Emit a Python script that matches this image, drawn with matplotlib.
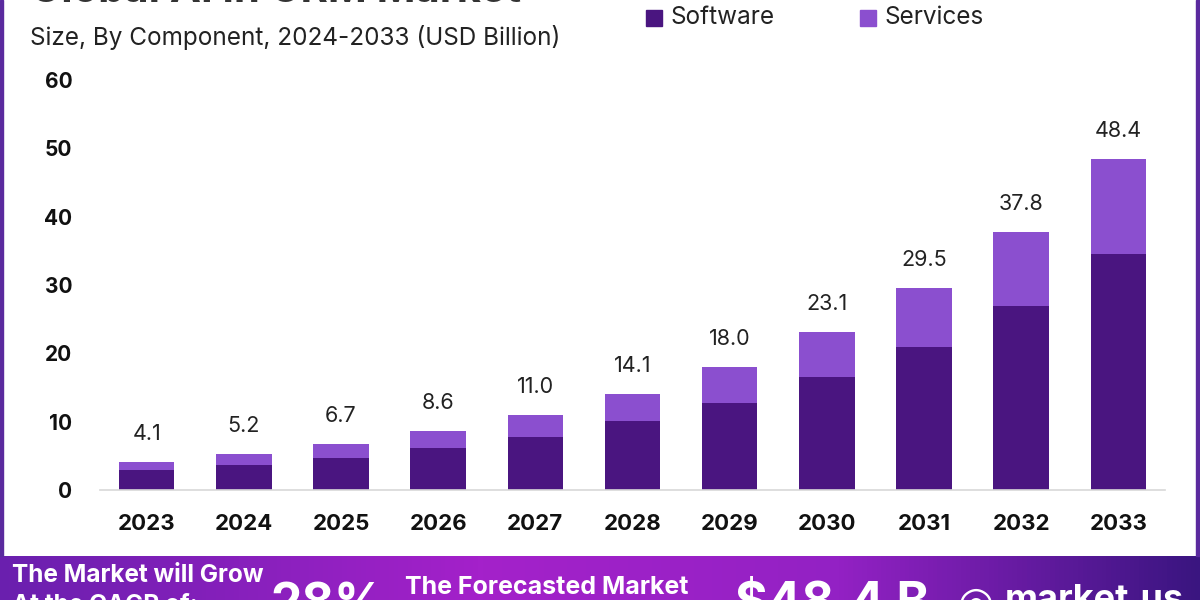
import numpy as np
import matplotlib
matplotlib.use("Agg")
import matplotlib.pyplot as plt
from matplotlib.colors import LinearSegmentedColormap
from matplotlib.patches import Rectangle

# Chart data (USD Billion)
years = ["2023", "2024", "2025", "2026", "2027", "2028",
         "2029", "2030", "2031", "2032", "2033"]
totals = [4.1, 5.2, 6.7, 8.6, 11.0, 14.1, 18.0, 23.1, 29.5, 37.8, 48.4]
software = [2.9, 3.7, 4.7, 6.2, 7.8, 10.1, 12.8, 16.5, 21.0, 26.9, 34.5]
services = [round(t - s, 1) for t, s in zip(totals, software)]
y_ticks = [0, 10, 20, 30, 40, 50, 60]

SOFTWARE_COLOR = "#4a1580"
SERVICES_COLOR = "#8b4fcf"
BORDER_COLOR = "#5a2a9e"

W, H = 1200, 600
plt.rcParams["font.family"] = ["Inter", "DejaVu Sans"]


def fx(px):
    return px / W


def fy(py):
    return 1 - py / H


fig = plt.figure(figsize=(12, 6), dpi=100)
fig.patch.set_facecolor("white")

# main bar chart
ax = fig.add_axes([fx(100), fy(490), fx(1065), 410 / H])
x = np.arange(len(years))
ax.bar(x, software, width=0.57, color=SOFTWARE_COLOR, label="Software")
ax.bar(x, services, width=0.57, bottom=software, color=SERVICES_COLOR,
       label="Services")
for xi, t in zip(x, totals):
    ax.annotate(f"{t:.1f}", (xi, t), xytext=(0, 13), textcoords="offset points",
                ha="center", va="bottom", fontsize=15.5, color="#222222")

ax.set_xlim(-0.48, len(years) - 0.52)
ax.set_ylim(0, 60)
ax.set_xticks(x)
ax.set_xticklabels(years, fontsize=16, fontweight="bold", color="#111111")
ax.set_yticks(y_ticks)
ax.set_yticklabels([str(v) for v in y_ticks], fontsize=15, fontweight="bold",
                   color="#111111")
ax.tick_params(axis="x", length=0, pad=17)
ax.tick_params(axis="y", length=0, pad=20)
for side in ["top", "right", "left"]:
    ax.spines[side].set_visible(False)
ax.spines["bottom"].set_color("#d8d8d8")
ax.spines["bottom"].set_linewidth(1.2)

# titles (top one is cut off in the original)
fig.text(fx(30), fy(2), "Global AI in CRM Market", fontsize=30,
         fontweight="bold", color="#333333", va="baseline")
fig.text(fx(30), fy(38), "Size, By Component, 2024-2033 (USD Billion)",
         fontsize=17.5, color="#222222", va="center")

# legend
fig.patches.append(Rectangle((fx(646), fy(26)), fx(16), 16 / H,
                             transform=fig.transFigure, color=SOFTWARE_COLOR))
fig.text(fx(670), fy(17), "Software", fontsize=17.5, color="#222222",
         va="center")
fig.patches.append(Rectangle((fx(860), fy(26)), fx(16), 16 / H,
                             transform=fig.transFigure, color=SERVICES_COLOR))
fig.text(fx(884), fy(17), "Services", fontsize=17.5, color="#222222",
         va="center")

# purple frame edges
fig.patches.append(Rectangle((0, fy(556)), fx(3), 556 / H,
                             transform=fig.transFigure, color=BORDER_COLOR))
fig.patches.append(Rectangle((fx(1196), fy(556)), fx(4), 556 / H,
                             transform=fig.transFigure, color=BORDER_COLOR))

# bottom banner with gradient
bax = fig.add_axes([0, 0, 1, 44 / H])
cmap = LinearSegmentedColormap.from_list(
    "banner", [(0, "#6a1fae"), (0.4, "#a421ca"), (0.7, "#9321c4"),
               (1, "#3a1580")])
bax.imshow(np.linspace(0, 1, 256).reshape(1, -1), aspect="auto", cmap=cmap,
           extent=[0, 1, 0, 1])
bax.set_axis_off()

fig.text(fx(12), fy(575), "The Market will Grow", fontsize=17.5,
         fontweight="bold", color="white", va="center")
fig.text(fx(12), fy(605), "At the CAGR of:", fontsize=17.5,
         fontweight="bold", color="white", va="center")
fig.text(fx(270), fy(583), "28%", fontsize=36, fontweight="bold",
         color="white", va="top")
fig.text(fx(405), fy(588), "The Forecasted Market", fontsize=18,
         fontweight="bold", color="white", va="center")
fig.text(fx(735), fy(581), "$48.4 B", fontsize=36, fontweight="bold",
         color="white", va="top")
fig.text(fx(958), fy(583), "\u25ce", fontsize=30, fontweight="bold",
         color="white", va="top", family="DejaVu Sans")
fig.text(fx(1005), fy(584), "market.us", fontsize=26, fontweight="bold",
         color="white", va="top")

fig.savefig("out.png", dpi=100)
